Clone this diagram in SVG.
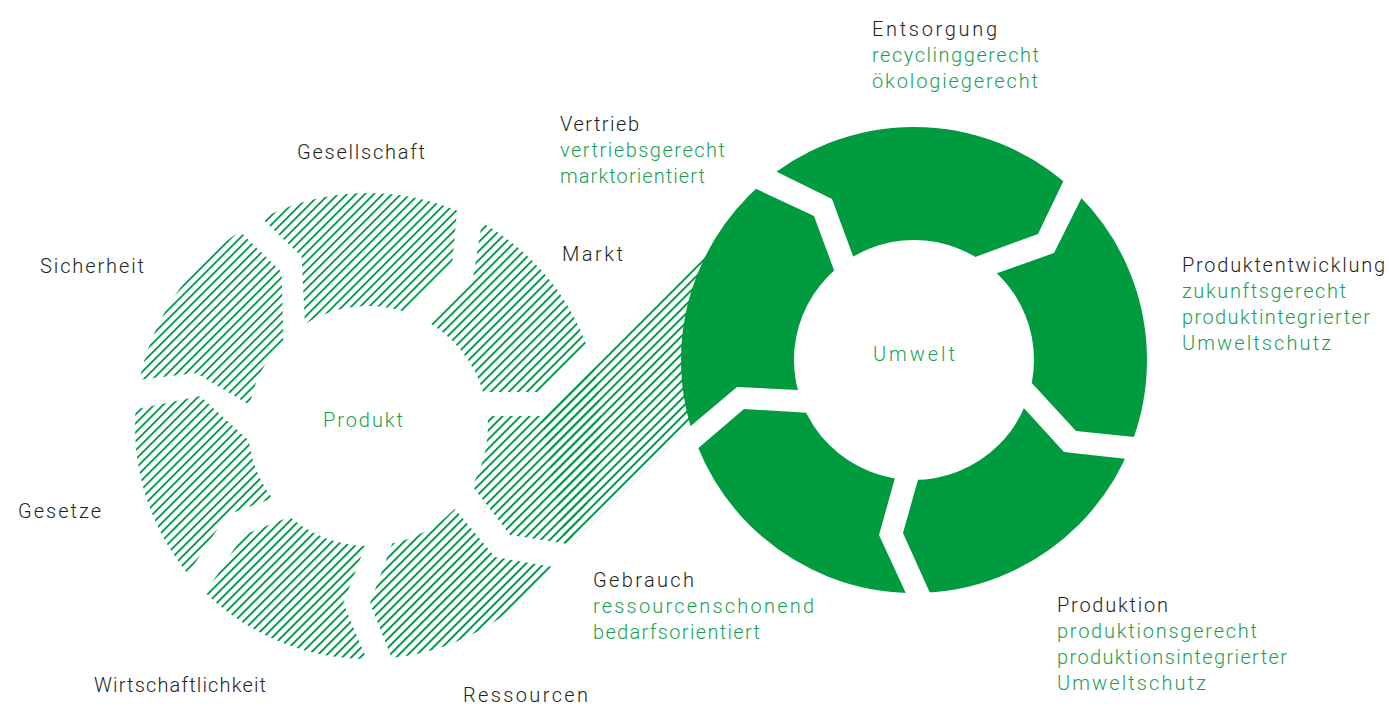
<svg xmlns="http://www.w3.org/2000/svg" width="1389" height="706" viewBox="0 0 1389 706">
<defs>
<pattern id="hatch" patternUnits="userSpaceOnUse" width="12" height="6.36" patternTransform="rotate(-45)">
<rect x="0" y="0" width="12" height="1.9" fill="#00984a"/>
</pattern>
</defs>
<style>
.lbl{font-family:Roboto,"Liberation Sans",Arial,sans-serif;font-weight:300;font-size:20px;fill:#231f20}
.sub{fill:#1a9f52}
.gap{fill:#ffffff}
.solid{fill:none;stroke:#009b3e;stroke-width:113}
.hring{fill:none;stroke:url(#hatch);stroke-width:113}
</style>
<rect width="1389" height="706" fill="#ffffff"/>
<g id="produkt-ring">
<circle class="hring" cx="368" cy="426" r="176.5"/>
</g>
<g id="connectors">
<polygon points="541,416 720,237 799,316 566,549" fill="url(#hatch)"/>
</g>
<g id="produkt-gaps" class="gap">
<polygon points="225,217 281.7,272 284,370 307,370 301.7,256.7 246,203"/>
<polygon points="459,190 452,265 395,322 410,341 473.3,276.7 485,202"/>
<polygon points="120,382 196,373 270,417 266,456 200,396 118,413"/>
<polygon points="290,492 226.7,515 180,586 198,604 243.3,535 305,511"/>
<polygon points="372,528 343.3,603.3 372,672 398,674 370,603.3 398,528"/>
<polygon points="460,470 510,535 600,549 600,575 495,557 440,491"/>
<polygon points="460,392 538,392 600,330 610,347 541,416 470,416"/>
</g>
<g id="umwelt-ring">
<circle class="solid" cx="914" cy="360" r="176.5"/>
<g class="gap">
<polygon points="757,162 832,199 860,275 841,289 814,216 737,180"/>
<polygon points="1073,161 1038,234 956,264 978,280 1054,253 1091,179"/>
<polygon points="1018,368 1076,431 1154,439 1145,461 1064,452 1010,393"/>
<polygon points="923,462 903,533 939,613 915,613 879,535 900,460"/>
<polygon points="826,414 744,409 675,468 667,446 737,387 818,391"/>
</g>
</g>
<g id="center-labels">
<text class="lbl sub" x="363" y="427" text-anchor="middle" textLength="80" lengthAdjust="spacing">Produkt</text>
<text class="lbl sub" x="914" y="361" text-anchor="middle" textLength="82" lengthAdjust="spacing">Umwelt</text>
</g>
<g id="produkt-labels">
<text class="lbl" x="297" y="159" textLength="128" lengthAdjust="spacing">Gesellschaft</text>
<text class="lbl" x="562" y="261" textLength="61" lengthAdjust="spacing">Markt</text>
<text class="lbl" x="40" y="273" textLength="104" lengthAdjust="spacing">Sicherheit</text>
<text class="lbl" x="18" y="518" textLength="83" lengthAdjust="spacing">Gesetze</text>
<text class="lbl" x="94" y="692" textLength="172" lengthAdjust="spacing">Wirtschaftlichkeit</text>
<text class="lbl" x="463" y="702" textLength="125" lengthAdjust="spacing">Ressourcen</text>
</g>
<g id="umwelt-labels">
<text class="lbl" x="872" y="36" textLength="125" lengthAdjust="spacing">Entsorgung</text>
<text class="lbl sub" x="872" y="62" textLength="167" lengthAdjust="spacing">recyclinggerecht</text>
<text class="lbl sub" x="872" y="88" textLength="166" lengthAdjust="spacing">ökologiegerecht</text>
<text class="lbl" x="560" y="131" textLength="79" lengthAdjust="spacing">Vertrieb</text>
<text class="lbl sub" x="560" y="157" textLength="165" lengthAdjust="spacing">vertriebsgerecht</text>
<text class="lbl sub" x="560" y="183" textLength="145" lengthAdjust="spacing">marktorientiert</text>
<text class="lbl" x="1182" y="272" textLength="203" lengthAdjust="spacing">Produktentwicklung</text>
<text class="lbl sub" x="1182" y="298" textLength="164" lengthAdjust="spacing">zukunftsgerecht</text>
<text class="lbl sub" x="1182" y="324" textLength="188" lengthAdjust="spacing">produktintegrierter</text>
<text class="lbl sub" x="1182" y="350" textLength="149" lengthAdjust="spacing">Umweltschutz</text>
<text class="lbl" x="593" y="587" textLength="101" lengthAdjust="spacing">Gebrauch</text>
<text class="lbl sub" x="593" y="613" textLength="221" lengthAdjust="spacing">ressourcenschonend</text>
<text class="lbl sub" x="593" y="639" textLength="167" lengthAdjust="spacing">bedarfsorientiert</text>
<text class="lbl" x="1057" y="612" textLength="111" lengthAdjust="spacing">Produktion</text>
<text class="lbl sub" x="1057" y="638" textLength="200" lengthAdjust="spacing">produktionsgerecht</text>
<text class="lbl sub" x="1057" y="664" textLength="230" lengthAdjust="spacing">produktionsintegrierter</text>
<text class="lbl sub" x="1057" y="690" textLength="149" lengthAdjust="spacing">Umweltschutz</text>
</g>
</svg>
